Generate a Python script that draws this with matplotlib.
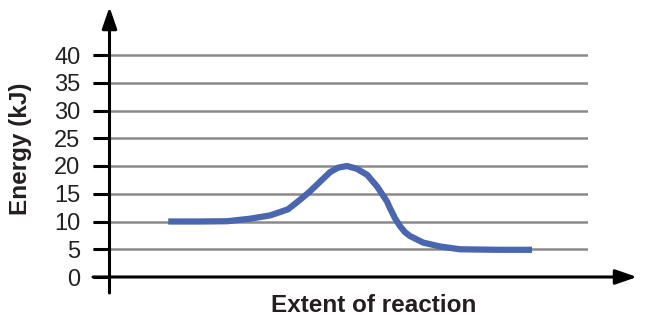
import matplotlib
matplotlib.use("Agg")
import matplotlib.pyplot as plt

# Data
extent = [15.2, 21.6, 27.1, 31.7, 35.8, 39.4, 41.8, 43.8, 45.9, 47.9, 49.5,
          51.3, 53.3, 55.4, 57.4, 59.4, 60.0, 61.0, 62.0, 63.0, 64.0, 66.7,
          70.1, 74.1, 77.6, 82.2, 88.7]
energy = [10.0, 10.0, 10.05, 10.5, 11.1, 12.2, 13.9, 15.4, 17.2, 18.9, 19.7,
          20.0, 19.5, 18.4, 16.3, 13.6, 12.4, 10.6, 9.2, 8.1, 7.4, 6.2,
          5.5, 5.0, 4.95, 4.9, 4.9]
yticks = [0, 5, 10, 15, 20, 25, 30, 35, 40]
xlabel = "Extent of reaction"
ylabel = "Energy (kJ)"

W, H = 650, 332
fig = plt.figure(figsize=(W / 100, H / 100), dpi=100)
px_per_unit = 222 / 40.0
y_bottom = -(300 - 277) / px_per_unit
y_top = (277 - 5) / px_per_unit
ax = fig.add_axes([93 / W, (H - 300) / H, (588 - 93) / W, (300 - 5) / H])
ax.set_xlim(0, 100)
ax.set_ylim(y_bottom, y_top)
for s in ax.spines.values():
    s.set_visible(False)
ax.set_xticks([])
ax.set_yticks(yticks)
ax.set_yticklabels([str(t) for t in yticks], fontsize=17, color="#222222",
                   family="Liberation Sans")
ax.tick_params(axis="y", length=0, pad=9)

# gridlines
for t in yticks[1:]:
    ax.plot([0, 100], [t, t], color="#8a8a8a", lw=1.8, zorder=1, solid_capstyle="butt")

yaxis_x = (109.5 - 93) / 4.95
# tick marks
for t in yticks:
    ax.plot([0, yaxis_x], [t, t], color="black", lw=2.2, zorder=2, solid_capstyle="butt")

# x-axis arrow
x_end = (637 - 93) / 4.95
ax.annotate("", xy=(x_end, 0), xytext=(0, 0), annotation_clip=False,
            arrowprops=dict(arrowstyle="-|>,head_length=1.3,head_width=0.45",
                            color="black", lw=2.2, shrinkA=0, shrinkB=0))
# y-axis arrow
y_tip = (277 - 7) / px_per_unit
y_start = -(293 - 277) / px_per_unit
ax.annotate("", xy=(yaxis_x, y_tip), xytext=(yaxis_x, y_start), annotation_clip=False,
            arrowprops=dict(arrowstyle="-|>,head_length=1.3,head_width=0.45",
                            color="black", lw=2.2, shrinkA=0, shrinkB=0))

ax.plot(extent, energy, color="#4a66ae", lw=4.5, zorder=3,
        solid_capstyle="butt", solid_joinstyle="round")

fig.text(374 / W, 1 - 306 / H, xlabel, ha="center", va="center", fontsize=17.5,
         fontweight="bold", color="#231f20", family="Liberation Sans")
fig.text(21 / W, 1 - 149 / H, ylabel, ha="center", va="center", rotation=90,
         fontsize=17.5, fontweight="bold", color="#231f20", family="Liberation Sans")

fig.savefig("out.png", dpi=100)
